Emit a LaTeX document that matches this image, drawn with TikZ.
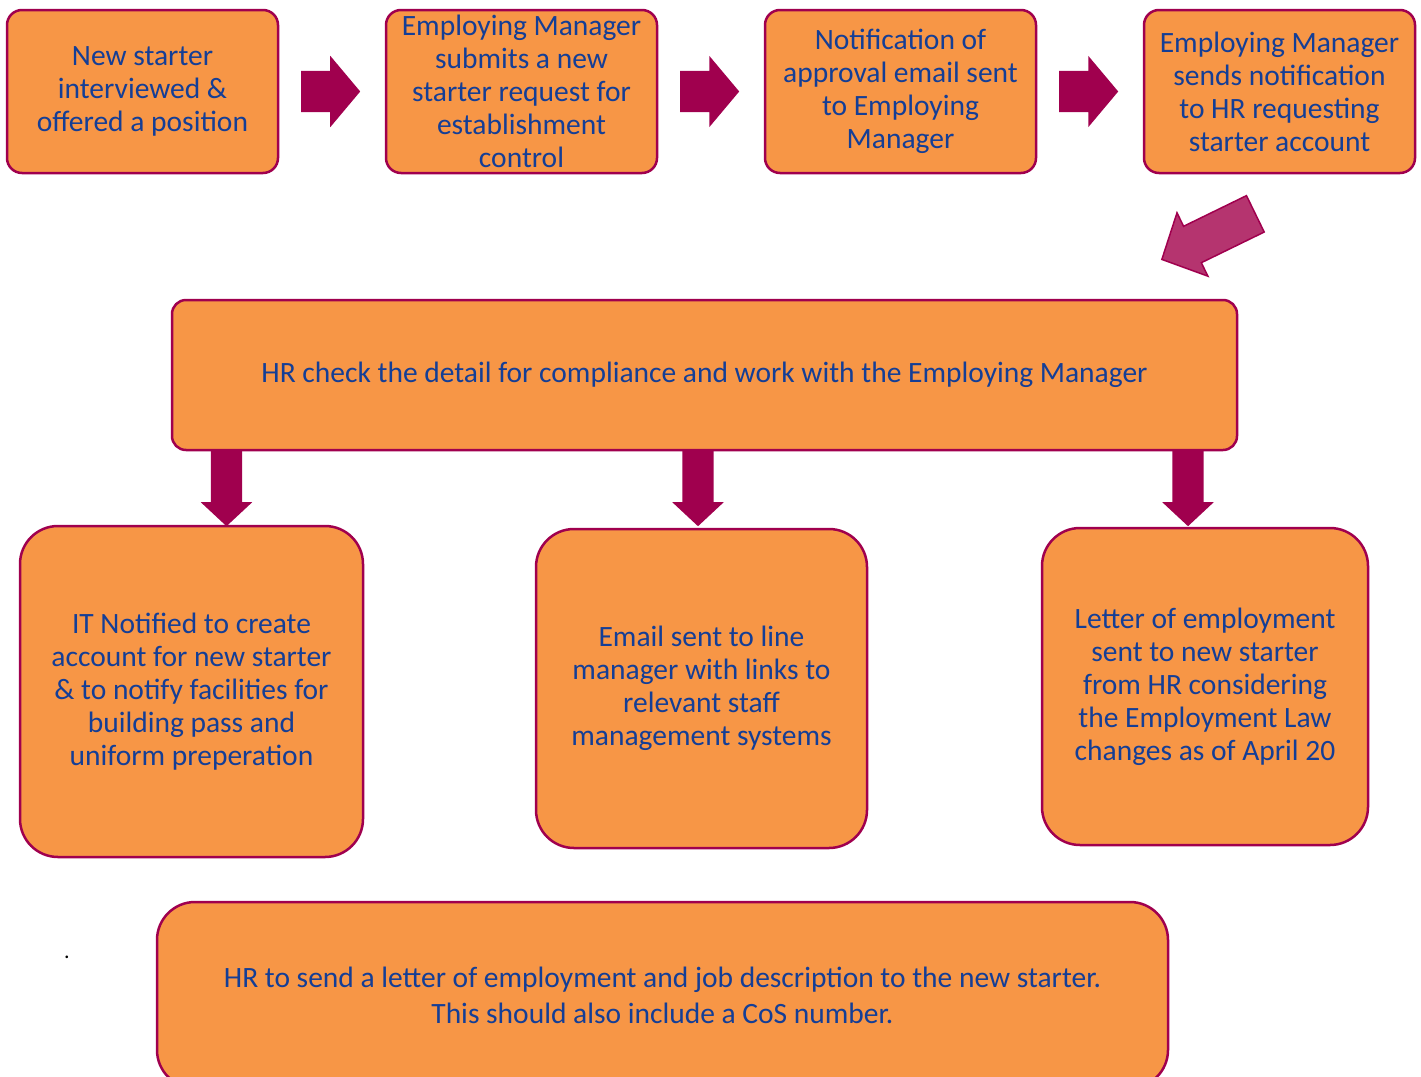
\documentclass[tikz,border=0pt]{standalone}
\usepackage{fontspec}
\setmainfont{Carlito}
\usetikzlibrary{shapes.arrows}
\definecolor{boxfill}{HTML}{F79646}
\definecolor{boxline}{HTML}{A0004E}
\definecolor{boxtext}{RGB}{20,62,150}
\definecolor{tiltfill}{HTML}{B5346F}
\newcommand{\stage}[4]{%
 \node[stage, #3] ({#1}) at ({#2}) {#4};%
}
\newcommand{\pointer}[4]{%
 \node[#4, rotate=#3] ({#1}) at ({#2}) {};%
}

\begin{document}
\begin{tikzpicture}[x=1pt, y=-1pt,
  stage/.style={rectangle, draw=boxline, line width=2.5pt, fill=boxfill, text=boxtext,
    align=center, inner sep=0pt, font=\fontsize{29.5}{33}\selectfont},
  flowright/.style={single arrow, anchor=tail, draw=none, fill=boxline, inner xsep=0pt, inner ysep=20.5pt,
    minimum height=59pt, single arrow head extend=15pt, single arrow tip angle=100},
  flowdown/.style={single arrow, anchor=tail, draw=none, fill=boxline, inner xsep=0pt, inner ysep=15.5pt,
    minimum height=75pt, single arrow head extend=10pt, single arrow tip angle=94},
  flowtilt/.style={single arrow, anchor=tail, draw=boxline, line width=1.5pt, fill=tiltfill, inner xsep=0pt,
    inner ysep=19.5pt, minimum height=104pt, single arrow head extend=15pt, single arrow tip angle=92}]
  \useasboundingbox (0,0) rectangle (1421,1076);
  \clip (0,0) rectangle (1421,1076);
  % top row
  \stage{s1}{142.5,91.5}{minimum width=271pt, minimum height=163pt, rounded corners=15pt}{New starter\\interviewed \&\\offered a position}
  \stage{s2}{521.5,91.5}{minimum width=271pt, minimum height=163pt, rounded corners=15pt}{Employing Manager\\submits a new\\starter request for\\establishment\\control}
  \stage{s3}{900.5,91.5}{minimum width=271pt, minimum height=163pt, rounded corners=15pt}{Notification of\\approval email sent\\to Employing\\Manager}
  \stage{s4}{1279.5,91.5}{minimum width=271pt, minimum height=163pt, rounded corners=15pt}{Employing Manager\\sends notification\\to HR requesting\\starter account}
  \pointer{r1}{301,91.5}{0}{flowright}
  \pointer{r2}{680,91.5}{0}{flowright}
  \pointer{r3}{1059,91.5}{0}{flowright}
  \pointer{tilt}{1256,213.5}{206}{flowtilt}
  % HR check
  \stage{hr}{704.5,375}{minimum width=1065pt, minimum height=150pt, rounded corners=14pt}{HR check the detail for compliance and work with the Employing Manager}
  \pointer{d1}{226.5,451}{-90}{flowdown}
  \pointer{d2}{698,451}{-90}{flowdown}
  \pointer{d3}{1188,451}{-90}{flowdown}
  % three outcomes
  \stage{it}{191.5,691.5}{minimum width=343pt, minimum height=331pt, rounded corners=38pt}{IT Notified to create\\account for new starter\\\& to notify facilities for\\building pass and\\uniform preperation}
  \stage{email}{701.5,688.5}{minimum width=331pt, minimum height=319pt, rounded corners=38pt}{Email sent to line\\manager with links to\\relevant staff\\management systems}
  \stage{letter}{1205,686.5}{minimum width=326pt, minimum height=317pt, rounded corners=38pt}{Letter of employment\\sent to new starter\\from HR considering\\the Employment Law\\changes as of April 20}
  % final step
  \node[anchor=base, text=black, font=\fontsize{22}{22}\selectfont] (dot) at (67,958) {.};
  \stage{send}{662.5,995}{minimum width=1011pt, minimum height=186pt, rounded corners=38pt, font=\fontsize{29.5}{36}\selectfont}{HR to send a letter of employment and job description to the new starter.\\This should also include a CoS number.}
\end{tikzpicture}
\end{document}
